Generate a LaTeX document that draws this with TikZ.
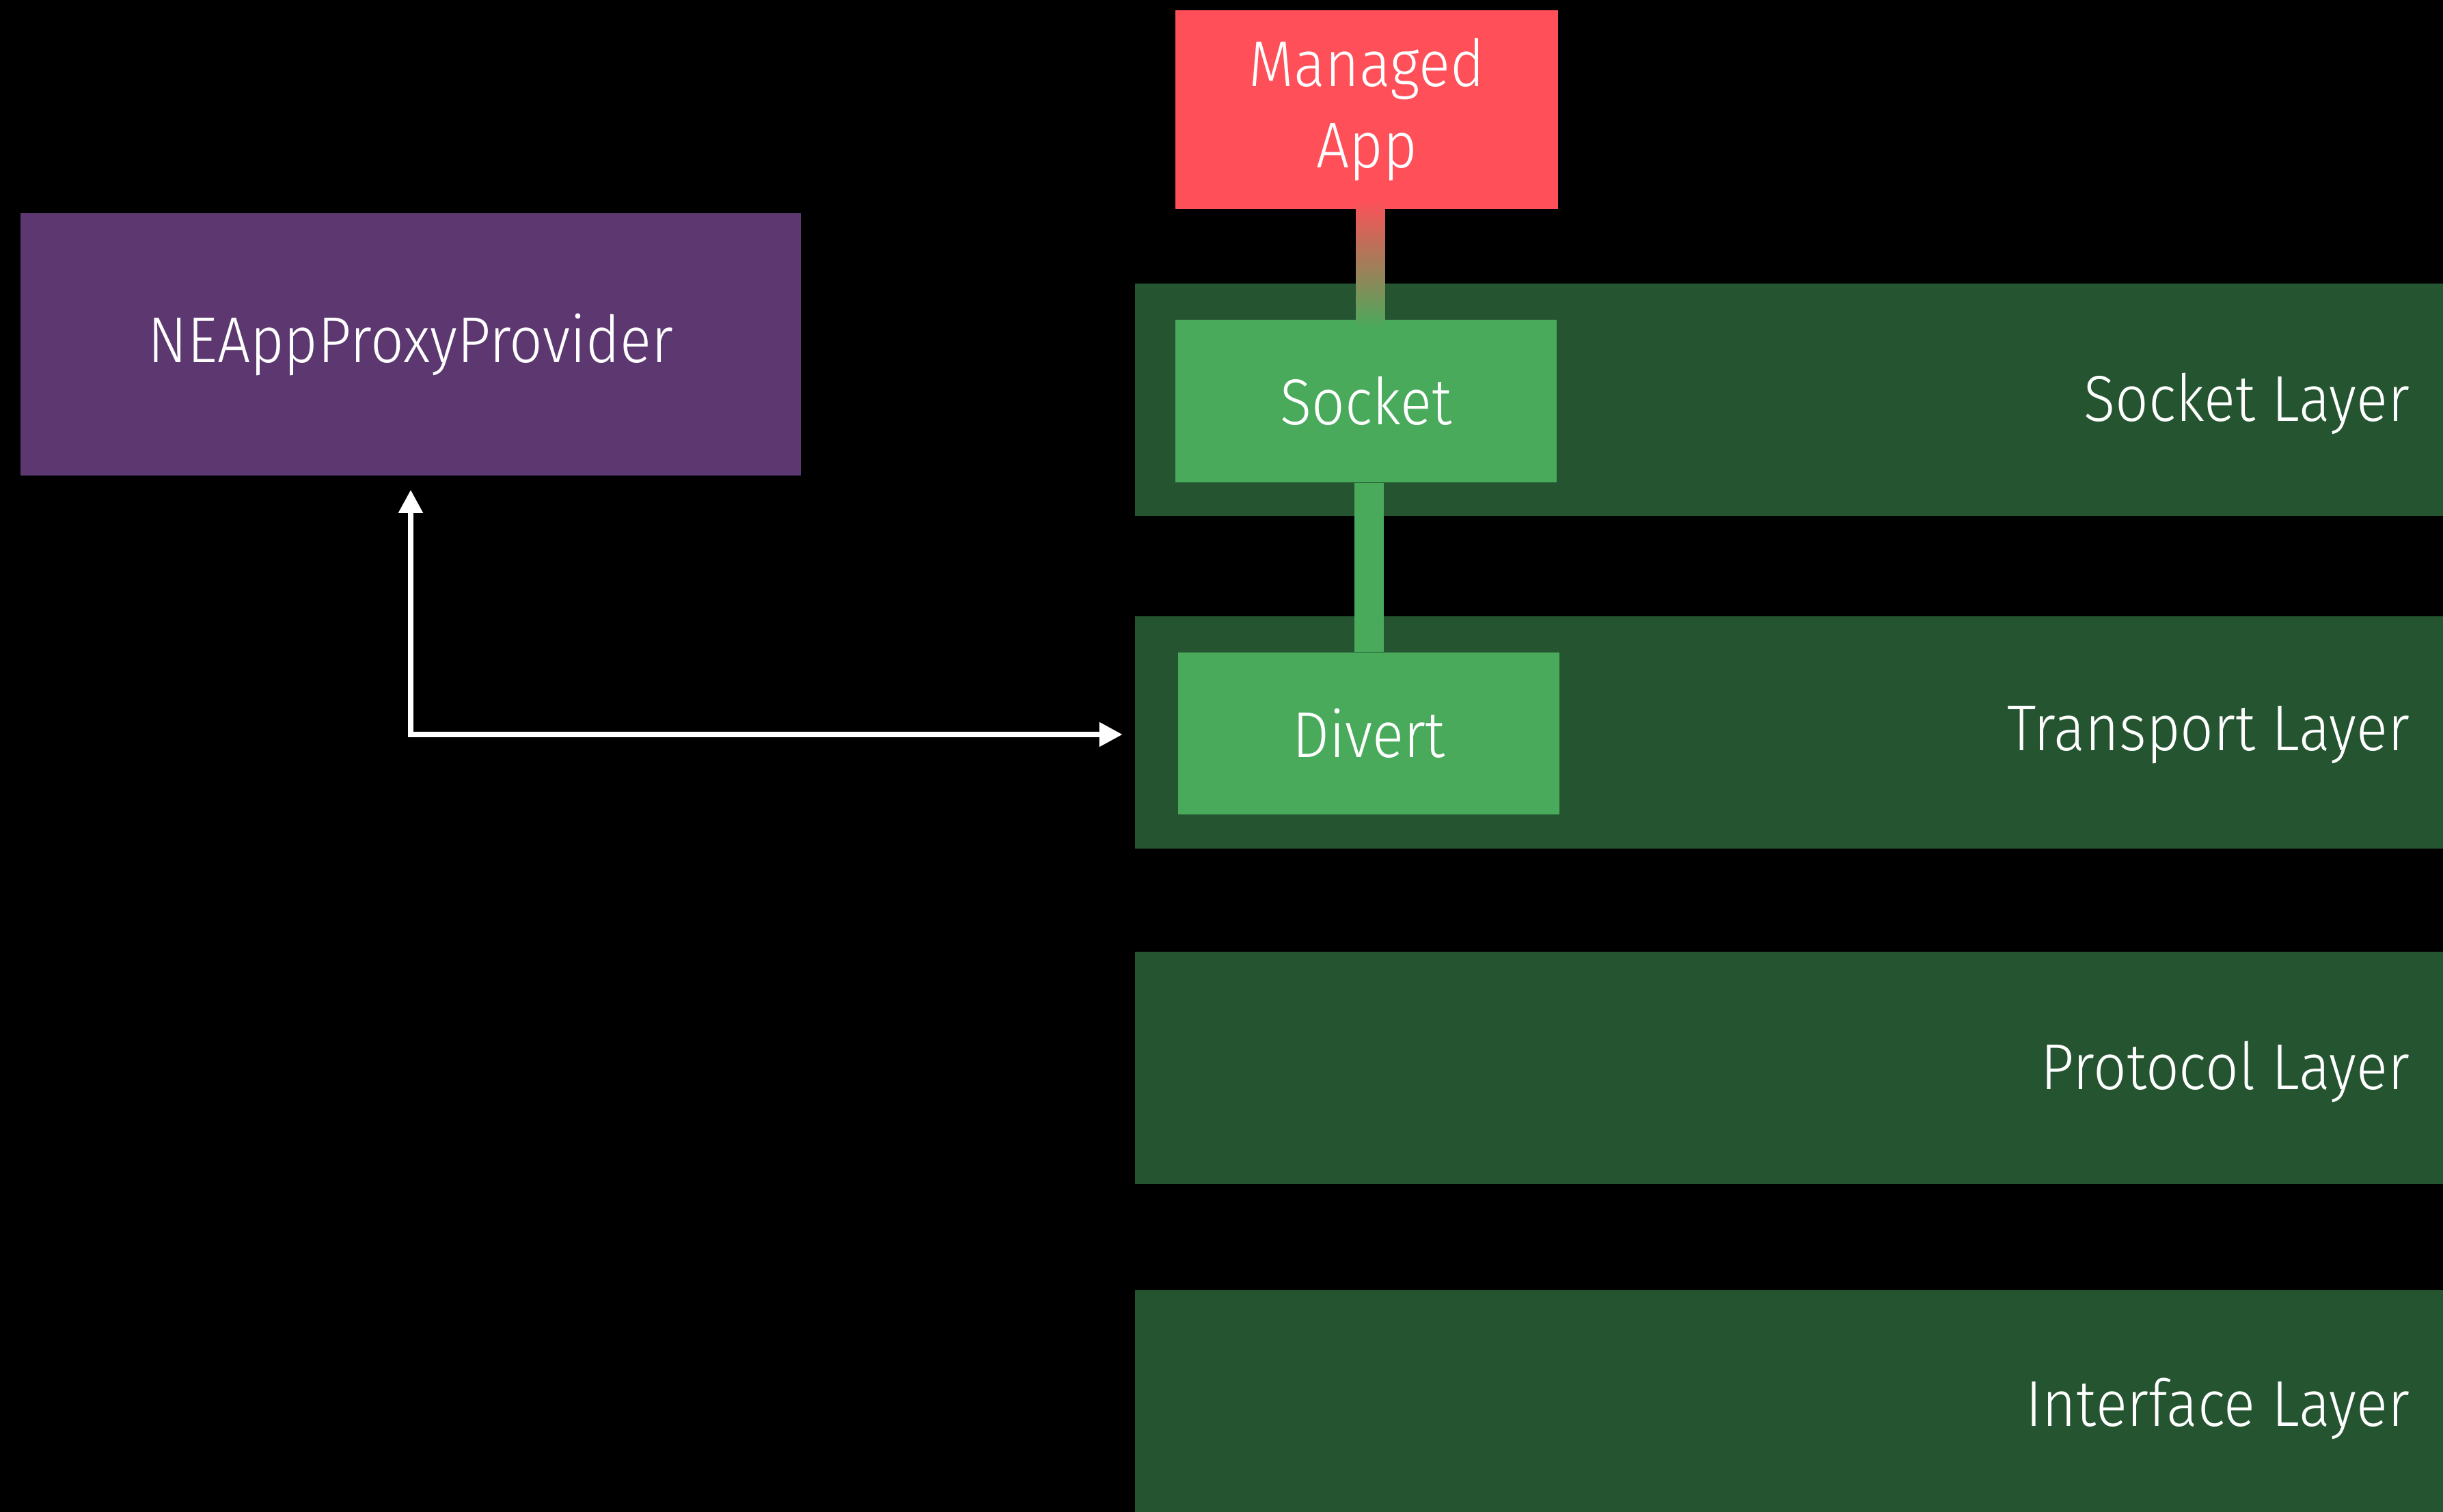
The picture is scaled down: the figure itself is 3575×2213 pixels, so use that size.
\documentclass[tikz,border=0pt]{standalone}
\usepackage{fontspec}
\setmainfont{Fira Sans Light}[FakeStretch=0.9]
\usetikzlibrary{arrows.meta,calc}
\definecolor{bgblack}{HTML}{000000}
\definecolor{provpurple}{HTML}{5C3770}
\definecolor{appred}{HTML}{FF4F58}
\definecolor{banddark}{HTML}{245430}
\definecolor{boxgreen}{HTML}{49AA5B}
\tikzset{
  box/.style={draw=none, inner sep=0pt, text=white, align=center,
    font=\fontsize{27pt}{34pt}\selectfont},
  band/.style={fill=banddark, draw=none, inner sep=0pt, minimum width=19.13cm, minimum height=3.40cm},
  bandlabel/.style={text=white, inner sep=0pt, anchor=east,
    font=\fontsize{27pt}{34pt}\selectfont},
  link/.style={boxgreen, line width=0.43cm},
  flow/.style={white, line width=0.08cm,
    {Triangle[length=0.34cm,width=0.34cm]}-{Triangle[length=0.34cm,width=0.34cm]}}
}
\begin{document}
\begin{tikzpicture}[x=0.01cm,y=-0.01cm]
\useasboundingbox (0,0) rectangle (3575,2213);
\clip (0,0) rectangle (3575,2213);
\fill[bgblack] (0,0) rectangle (3575,2213);
% layer bands
\node[band] (sockband) at (2618.5,585) {};
\node[band] (transband) at (2618.5,1072) {};
\node[band] (protoband) at (2618.5,1563) {};
\node[band] (ifband) at (2618.5,2058) {};
\node[bandlabel] (l1) at (3527,591) {Socket Layer};
\node[bandlabel] (l2) at (3527,1076) {Transport Layer};
\node[bandlabel] (l3) at (3527,1569) {Protocol Layer};
\node[bandlabel] (l4) at (3527,2062) {Interface Layer};
% boxes
\node[box, fill=provpurple, minimum width=11.42cm, minimum height=3.84cm] (prov) at (601,504) {NEAppProxyProvider};
\node[box, fill=appred, minimum width=5.59cm, minimum height=2.91cm] (app) at (2000,160.5) {Managed\\App};
\node[box, fill=boxgreen, minimum width=5.58cm, minimum height=2.38cm] (sock) at (1999,587) {Socket};
\node[box, fill=boxgreen, minimum width=5.58cm, minimum height=2.37cm] (divert) at (2003,1073.5) {Divert};
% connectors
\shade[top color=appred, bottom color=boxgreen]
  ($(app.south)+(-15.5,-16)$) rectangle ($(sock.north)+(27.5,13)$);
\draw[link] (divert.north |- sock.south) -- (divert.north);
\draw[flow, shorten <=0.2cm, shorten >=0.18cm] (prov.south) |- ($(transband.west)+(0,3)$);
\end{tikzpicture}
\end{document}
